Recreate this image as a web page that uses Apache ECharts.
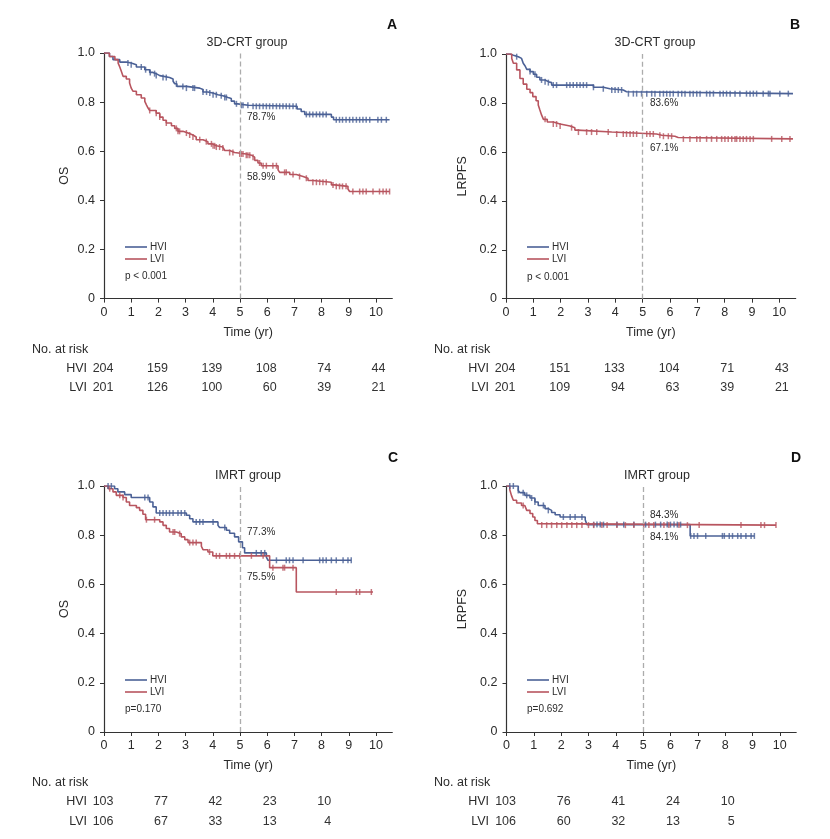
<!DOCTYPE html>
<html><head><meta charset="utf-8">
<script src="https://cdn.jsdelivr.net/npm/echarts@6/dist/echarts.min.js"></script>
<style>html,body{margin:0;padding:0;background:#fff}#c{width:830px;height:839px}</style>
</head><body><div id="c"></div><script>
// ---------- DATA ----------
const xTicks = [0,1,2,3,4,5,6,7,8,9,10];
const yTicks = [0,0.2,0.4,0.6,0.8,1.0];
const panelLetters = ['A','B','C','D'];
const panelTitles = ['3D-CRT group','3D-CRT group','IMRT group','IMRT group'];
const yNames = ['OS','LRPFS','OS','LRPFS'];
const xName = 'Time (yr)';
const groups = ['HVI','LVI'];
const pValues = ['p < 0.001','p < 0.001','p=0.170','p=0.692'];
const landmarkYear = 5;

// Panel A (3D-CRT, OS)
const aHviT = [0,0.2,0.33,0.58,0.82,1.0,1.19,1.5,1.68,1.8,1.92,2.05,2.41,2.54,2.6,2.68,3.03,3.52,3.64,3.82,4.0,4.19,4.37,4.56,4.68,4.8,4.92,5.3,7.1,7.25,7.38,8.36,8.44];
const aHviS = [1,0.986,0.973,0.963,0.959,0.952,0.943,0.932,0.921,0.916,0.908,0.9,0.894,0.885,0.875,0.864,0.857,0.851,0.841,0.837,0.83,0.826,0.819,0.815,0.804,0.793,0.787,0.783,0.772,0.762,0.75,0.739,0.728];
const aHviEnd = 10.5;
const aHviCens = [0.88,1.0,1.37,1.53,1.7,1.86,1.92,2.17,2.29,2.66,2.9,3.03,3.27,3.33,3.64,3.77,3.89,4.01,4.13,4.31,4.44,4.5,4.87,5.05,5.11,5.29,5.48,5.6,5.72,5.85,5.97,6.09,6.21,6.34,6.46,6.58,6.7,6.82,6.95,7.07,7.44,7.56,7.68,7.81,7.93,8.05,8.17,8.54,8.66,8.77,8.9,9.03,9.15,9.28,9.4,9.52,9.64,9.77,10.07,10.2,10.38];
const aLviT = [0,0.2,0.4,0.52,0.58,0.64,0.7,0.82,0.94,1.0,1.07,1.19,1.37,1.5,1.56,1.62,1.68,1.92,2.05,2.17,2.29,2.48,2.6,2.72,2.9,3.09,3.27,3.39,3.64,3.82,3.98,4.13,4.37,4.44,4.62,4.8,5.23,5.42,5.54,5.66,5.78,6.4,6.46,6.83,7.07,7.32,7.5,7.68,8.36,8.48,8.97,9.03];
const aLviS = [1,0.986,0.973,0.959,0.943,0.925,0.905,0.894,0.878,0.857,0.844,0.83,0.817,0.803,0.789,0.776,0.766,0.755,0.739,0.726,0.715,0.704,0.693,0.681,0.674,0.666,0.658,0.647,0.639,0.63,0.622,0.617,0.613,0.603,0.595,0.589,0.584,0.576,0.563,0.552,0.541,0.524,0.514,0.505,0.497,0.49,0.481,0.474,0.463,0.457,0.446,0.436];
const aLviEnd = 10.5;
const aLviCens = [1.68,1.92,2.05,2.29,2.66,2.72,2.78,3.03,3.15,3.27,3.52,3.76,3.95,4.01,4.07,4.13,4.25,4.37,4.62,4.74,4.99,5.05,5.11,5.23,5.29,5.36,5.48,5.72,5.85,5.97,6.21,6.34,6.64,6.7,6.95,7.19,7.44,7.68,7.81,7.93,8.05,8.17,8.42,8.54,8.66,8.77,8.9,9.15,9.4,9.52,9.64,9.89,10.13,10.26,10.38,10.5];
const aPct = ['78.7%','58.9%'];
const aRiskT = [0,2,4,6,8,10];
const aRiskHvi = [204,159,139,108,74,44];
const aRiskLvi = [201,126,100,60,39,21];

// Panel B (3D-CRT, LRPFS)
const bHviT = [0,0.15,0.27,0.45,0.57,0.63,0.7,0.76,0.88,1.0,1.12,1.24,1.43,1.55,1.67,3.2,3.56,3.8,4.29,4.41];
const bHviS = [1,0.995,0.989,0.982,0.975,0.962,0.951,0.937,0.928,0.917,0.905,0.894,0.887,0.883,0.873,0.864,0.858,0.853,0.846,0.838];
const bHviEnd = 10.5;
const bHviCens = [0.39,0.88,1.06,1.3,1.43,1.55,1.73,1.85,2.22,2.34,2.46,2.59,2.71,2.83,2.95,3.2,3.56,3.87,3.99,4.11,4.23,4.48,4.66,4.78,4.96,5.15,5.33,5.45,5.63,5.76,5.88,6.0,6.12,6.3,6.43,6.55,6.73,6.85,6.98,7.1,7.34,7.46,7.59,7.83,7.95,8.07,8.2,8.38,8.56,8.8,8.93,9.05,9.17,9.41,9.6,9.66,10.02,10.33];
const bLviT = [0,0.21,0.27,0.39,0.51,0.63,0.76,0.88,0.98,1.1,1.18,1.24,1.3,1.37,1.51,1.73,1.98,2.34,2.52,2.61,3.87,5.51,5.7,6.18,6.3];
const bLviS = [1,0.982,0.962,0.935,0.9,0.877,0.856,0.842,0.826,0.809,0.792,0.771,0.751,0.733,0.722,0.714,0.706,0.699,0.689,0.681,0.673,0.668,0.664,0.659,0.653];
const bLviEnd = 10.5;
const bLviCens = [1.43,1.73,1.85,1.98,2.4,2.65,2.95,3.13,3.32,3.74,4.05,4.29,4.41,4.54,4.66,4.78,5.15,5.27,5.39,5.63,5.76,5.94,6.06,6.49,6.73,6.98,7.1,7.34,7.52,7.71,7.89,8.01,8.13,8.26,8.38,8.44,8.56,8.68,8.8,8.93,9.05,9.72,10.09,10.39];
const bPct = ['83.6%','67.1%'];
const bRiskT = [0,2,4,6,8,10];
const bRiskHvi = [204,151,133,104,71,43];
const bRiskLvi = [201,109,94,63,39,21];

// Panel C (IMRT, OS)
const cHviT = [0,0.39,0.51,0.76,1.0,1.68,1.8,1.92,3.03,3.15,3.27,4.19,4.25,4.5,4.62,4.8,4.95,5.09,5.17,5.97,6.03];
const cHviS = [1,0.989,0.976,0.965,0.953,0.935,0.915,0.89,0.881,0.867,0.854,0.84,0.831,0.82,0.808,0.793,0.773,0.749,0.728,0.711,0.698];
const cHviEnd = 9.09;
const cHviCens = [0.15,0.27,1.5,1.62,2.05,2.17,2.29,2.41,2.54,2.72,2.84,2.97,3.39,3.52,3.64,4.01,4.44,5.6,5.78,5.91,6.34,6.7,6.82,6.95,7.32,7.93,8.05,8.17,8.36,8.54,8.79,8.97,9.09];
const cLviT = [0,0.15,0.33,0.45,0.7,0.82,0.94,1.19,1.31,1.43,1.53,2.05,2.17,2.29,2.41,2.66,2.84,2.97,3.09,3.58,3.64,3.82,4.0,6.09,7.07];
const cLviS = [1,0.989,0.976,0.962,0.953,0.935,0.921,0.912,0.901,0.885,0.863,0.854,0.84,0.827,0.813,0.806,0.793,0.782,0.77,0.755,0.741,0.732,0.716,0.668,0.569];
const cLviEnd = 9.89;
const cLviCens = [0.21,0.58,0.7,1.56,1.86,2.54,2.6,2.78,3.15,3.27,3.39,3.88,4.13,4.25,4.5,4.62,4.8,4.99,5.42,5.85,6.21,6.58,6.64,6.95,8.54,9.28,9.4,9.83];
const cPct = ['77.3%','75.5%'];
const cRiskT = [0,2,4,6,8];
const cRiskHvi = [103,77,42,23,10];
const cRiskLvi = [106,67,33,13,4];

// Panel D (IMRT, LRPFS)
const dHviT = [0,0.43,0.49,0.67,0.86,1.04,1.16,1.41,1.53,1.65,1.78,1.96,2.88,2.94,6.72];
const dHviS = [1,0.982,0.973,0.962,0.951,0.935,0.921,0.908,0.901,0.892,0.883,0.874,0.863,0.843,0.797];
const dHviEnd = 9.07;
const dHviCens = [0.12,0.25,0.43,0.61,0.74,0.92,1.04,1.35,1.53,2.08,2.33,2.51,2.76,3.19,3.31,3.43,3.55,4.04,4.29,4.66,5.09,5.45,5.64,5.88,6.0,6.13,6.25,6.37,6.74,6.86,6.99,7.29,7.9,7.97,8.15,8.27,8.46,8.58,8.76,8.95,9.07];
const dLviT = [0,0.12,0.18,0.25,0.37,0.55,0.67,0.74,0.86,0.96,1.04,1.13,1.2];
const dLviS = [1,0.985,0.962,0.942,0.931,0.921,0.915,0.901,0.888,0.874,0.86,0.847,0.841];
const dLviEnd = 9.86;
const dLviCens = [0.61,1.29,1.47,1.65,1.84,2.02,2.21,2.39,2.57,2.76,3.0,3.19,3.49,3.68,4.04,4.35,4.66,5.02,5.21,5.39,5.76,5.94,6.31,6.62,7.05,8.58,9.31,9.44,9.86];
const dPct = ['84.3%','84.1%'];
const dRiskT = [0,2,4,6,8];
const dRiskHvi = [103,76,41,24,10];
const dRiskLvi = [106,60,32,13,5];

// ---------- ASSEMBLY ----------
const panels = [
  {curves:[[aHviT,aHviS,aHviEnd,aHviCens],[aLviT,aLviS,aLviEnd,aLviCens]], pct:aPct, riskT:aRiskT, risk:[aRiskHvi,aRiskLvi]},
  {curves:[[bHviT,bHviS,bHviEnd,bHviCens],[bLviT,bLviS,bLviEnd,bLviCens]], pct:bPct, riskT:bRiskT, risk:[bRiskHvi,bRiskLvi]},
  {curves:[[cHviT,cHviS,cHviEnd,cHviCens],[cLviT,cLviS,cLviEnd,cLviCens]], pct:cPct, riskT:cRiskT, risk:[cRiskHvi,cRiskLvi]},
  {curves:[[dHviT,dHviS,dHviEnd,dHviCens],[dLviT,dLviS,dLviEnd,dLviCens]], pct:dPct, riskT:dRiskT, risk:[dRiskHvi,dRiskLvi]}
];

// ---------- LAYOUT / STYLE ----------
const FONT = "'Liberation Sans',Arial,sans-serif";
const TXT = '#2b2b2b';
const COLORS = ['#4b6196','#b8555f'];
const XMAX = 10.6;
const layout = [
  {grid:{left:104,top:53,width:288.3,height:245.6}, title:[247,43], letter:[392,25], pct:[[247,117],[247,177]], leg:[125,247], p:[125,276], noRisk:[32,350], rows:[369,388], grpX:87},
  {grid:{left:506,top:54,width:289.7,height:244.7}, title:[655,43], letter:[795,25], pct:[[650,103],[650,148]], leg:[527,247], p:[527,277], noRisk:[434,350], rows:[369,388], grpX:489},
  {grid:{left:104,top:486,width:288.3,height:246}, title:[248,476], letter:[393,458], pct:[[247,532],[247,577]], leg:[125,680], p:[125,709], noRisk:[32,783], rows:[802,822], grpX:87},
  {grid:{left:506.5,top:486,width:289.7,height:246}, title:[657,476], letter:[796,458], pct:[[650,515],[650,537]], leg:[527,680], p:[527,709], noRisk:[434,783], rows:[802,822], grpX:489}
];

function survAt(T,S,t){let v=S[0];for(let i=0;i<T.length;i++){if(T[i]<=t)v=S[i];else break;}return v;}

const grid=[],xAxis=[],yAxis=[],series=[];
panels.forEach((p,i)=>{
  grid.push(Object.assign({containLabel:false},layout[i].grid));
  xAxis.push({type:'value',gridIndex:i,min:0,max:XMAX,interval:1,
    name:xName,nameLocation:'middle',nameGap:27,
    nameTextStyle:{fontFamily:FONT,fontSize:12.5,color:TXT},
    axisLine:{lineStyle:{color:'#333',width:1.2}},
    axisTick:{show:true,length:4,lineStyle:{color:'#333'},customValues:xTicks},
    axisLabel:{fontFamily:FONT,fontSize:12.5,color:TXT,margin:7,customValues:xTicks},
    splitLine:{show:false}});
  yAxis.push({type:'value',gridIndex:i,min:0,max:1,interval:0.2,
    name:yNames[i],nameLocation:'middle',nameGap:i%2?37:33,nameRotate:90,
    nameTextStyle:{fontFamily:FONT,fontSize:12.5,color:TXT},
    axisLine:{show:true,lineStyle:{color:'#333',width:1.2}},
    axisTick:{show:true,length:4,lineStyle:{color:'#333'}},
    axisLabel:{fontFamily:FONT,fontSize:12.5,color:TXT,margin:9,formatter:v=>v===0?'0':v.toFixed(1)},
    splitLine:{show:false}});
  p.curves.forEach((c,g)=>{
    const [T,S,end,cens]=c;
    const pts=T.map((t,k)=>[t,S[k]]); pts.push([end,S[S.length-1]]);
    const s={type:'line',name:groups[g],xAxisIndex:i,yAxisIndex:i,data:pts,step:'end',
      showSymbol:false,symbol:'none',lineStyle:{color:COLORS[g],width:1.6},itemStyle:{color:COLORS[g]},
      silent:true,animation:false,z:3};
    if(g===0){
      s.markLine={silent:true,symbol:'none',label:{show:false},animation:false,
        lineStyle:{color:'#acacac',type:[5,3],width:1.3},
        data:[[{coord:[landmarkYear,0]},{coord:[landmarkYear,1.0]}]]};
    }
    series.push(s);
    series.push({type:'scatter',xAxisIndex:i,yAxisIndex:i,silent:true,animation:false,
      data:cens.map(t=>[t,survAt(T,S,t)]),symbol:'rect',symbolSize:[1.5,6],
      itemStyle:{color:COLORS[g]},z:4});
  });
});

const chart=echarts.init(document.getElementById('c'),null,{renderer:'canvas'});
chart.setOption({animation:false,backgroundColor:'#fff',grid,xAxis,yAxis,series});

const graphic=[];
function txt(x,y,text,opt){graphic.push({type:'text',x:x,y:y,silent:true,
  style:Object.assign({text:text,font:'12.5px '+FONT,fill:TXT,textAlign:'left',textVerticalAlign:'middle',verticalAlign:'middle'},opt||{})});}
panels.forEach((p,i)=>{
  const L=layout[i];
  txt(L.title[0],L.title[1],panelTitles[i],{textAlign:'center'});
  txt(L.letter[0],L.letter[1],panelLetters[i],{textAlign:'center',font:'bold 14px '+FONT,fill:'#111'});
  p.pct.forEach((s,g)=>txt(L.pct[g][0],L.pct[g][1],s,{font:'10px '+FONT}));
  groups.forEach((gname,g)=>{
    const y=L.leg[1]+g*12;
    graphic.push({type:'line',silent:true,shape:{x1:L.leg[0],y1:y,x2:L.leg[0]+22,y2:y},style:{stroke:COLORS[g],lineWidth:1.6}});
    txt(L.leg[0]+25,y,gname,{font:'10px '+FONT});
  });
  txt(L.p[0],L.p[1],pValues[i],{font:'10px '+FONT});
  txt(L.noRisk[0],L.noRisk[1],'No. at risk',{font:'12.5px '+FONT});
  groups.forEach((gname,g)=>{
    const y=L.rows[g];
    txt(L.grpX,y,gname,{textAlign:'right',font:'12.5px '+FONT});
    p.riskT.forEach((t,k)=>{
      const px=chart.convertToPixel({gridIndex:i},[t,0])[0];
      txt(px+9.5,y,String(p.risk[g][k]),{textAlign:'right',font:'12.5px '+FONT,fill:'#333'});
    });
  });
});
chart.setOption({graphic:graphic});
</script></body></html>
